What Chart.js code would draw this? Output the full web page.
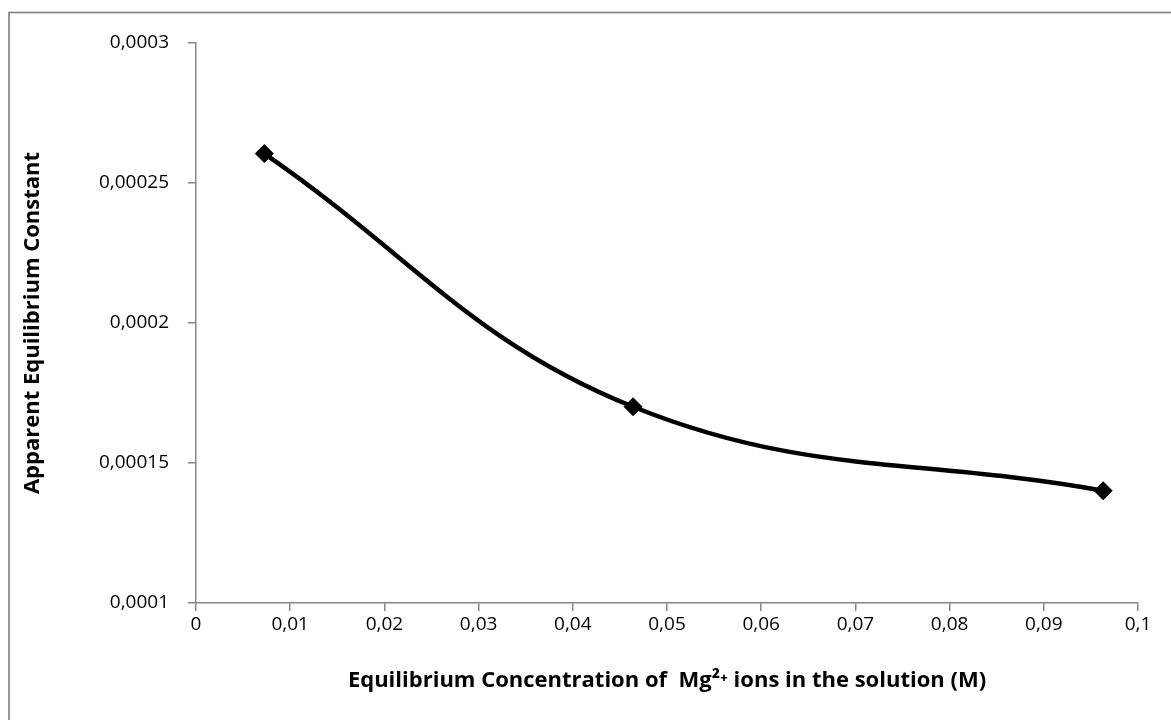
<!DOCTYPE html>
<html>
<head>
<meta charset="utf-8">
<script src="https://cdn.jsdelivr.net/npm/chart.js@4.4.1/dist/chart.umd.min.js"></script>
<style>
html,body{margin:0;padding:0;background:#fff;}
#wrap{position:relative;width:1171px;height:720px;}
</style>
</head>
<body>
<div id="wrap"><canvas id="c" width="1171" height="720"></canvas></div>
<script>
const concentration = [0.00725, 0.0464, 0.0963];
const equilibriumConstant = [0.0002605, 0.0001701, 0.0001401];
const xTitle = 'Equilibrium Concentration of  Mg\u00B2\u207A ions in the solution (M)';
const yTitle = 'Apparent Equilibrium Constant';

const points = concentration.map((x, i) => ({x: x, y: equilibriumConstant[i]}));
const fmt = v => String(Number(v.toPrecision(10))).replace('.', ',');
const FONT = "'Open Sans', 'Noto Sans', sans-serif";
const AXIS = '#868686';

const frame = {
  id: 'frame',
  beforeDraw(chart) {
    const ctx = chart.ctx;
    ctx.save();
    ctx.fillStyle = '#ffffff';
    ctx.fillRect(0, 0, chart.width, chart.height);
    ctx.strokeStyle = '#878787';
    ctx.lineWidth = 1.7;
    ctx.strokeRect(9, 12.5, chart.width + 20, chart.height + 20);
    ctx.restore();
  }
};

new Chart(document.getElementById('c'), {
  type: 'scatter',
  data: {
    datasets: [{
      data: points,
      showLine: true,
      borderColor: '#000',
      borderWidth: 4.5,
      tension: 0.4,
      pointStyle: 'rectRot',
      pointRadius: 9,
      pointBackgroundColor: '#000',
      pointBorderColor: '#000',
      pointBorderWidth: 1,
      clip: false
    }]
  },
  options: {
    responsive: false,
    animation: false,
    events: [],
    layout: {padding: {left: 0, top: 43, right: 33, bottom: 0}},
    plugins: {legend: {display: false}, tooltip: {enabled: false}},
    scales: {
      x: {
        type: 'linear',
        min: 0, max: 0.1,
        afterFit(s) { s.height = 117; },
        ticks: {stepSize: 0.01, color: '#000', padding: 2,
          font: {family: FONT, size: 19}, callback: v => fmt(v)},
        grid: {drawOnChartArea: false, drawTicks: true, tickLength: 8, color: AXIS, lineWidth: 1.5},
        border: {display: true, color: AXIS, width: 1.5},
        title: {display: true, text: xTitle, color: '#000',
          font: {family: FONT, size: 22, weight: 'bold'}, padding: {top: 0, bottom: 26}}
      },
      y: {
        type: 'linear',
        min: 0.0001, max: 0.0003,
        afterFit(s) { s.width = 196; },
        ticks: {stepSize: 0.00005, color: '#000', padding: 19,
          font: {family: FONT, size: 19}, callback: v => fmt(v)},
        grid: {drawOnChartArea: false, drawTicks: true, tickLength: 8, color: AXIS, lineWidth: 1.5},
        border: {display: true, color: AXIS, width: 1.5},
        title: {display: true, text: yTitle, color: '#000',
          font: {family: FONT, size: 22, weight: 'bold'}, padding: {top: 20, bottom: 0}}
      }
    }
  },
  plugins: [frame]
});
</script>
</body>
</html>
